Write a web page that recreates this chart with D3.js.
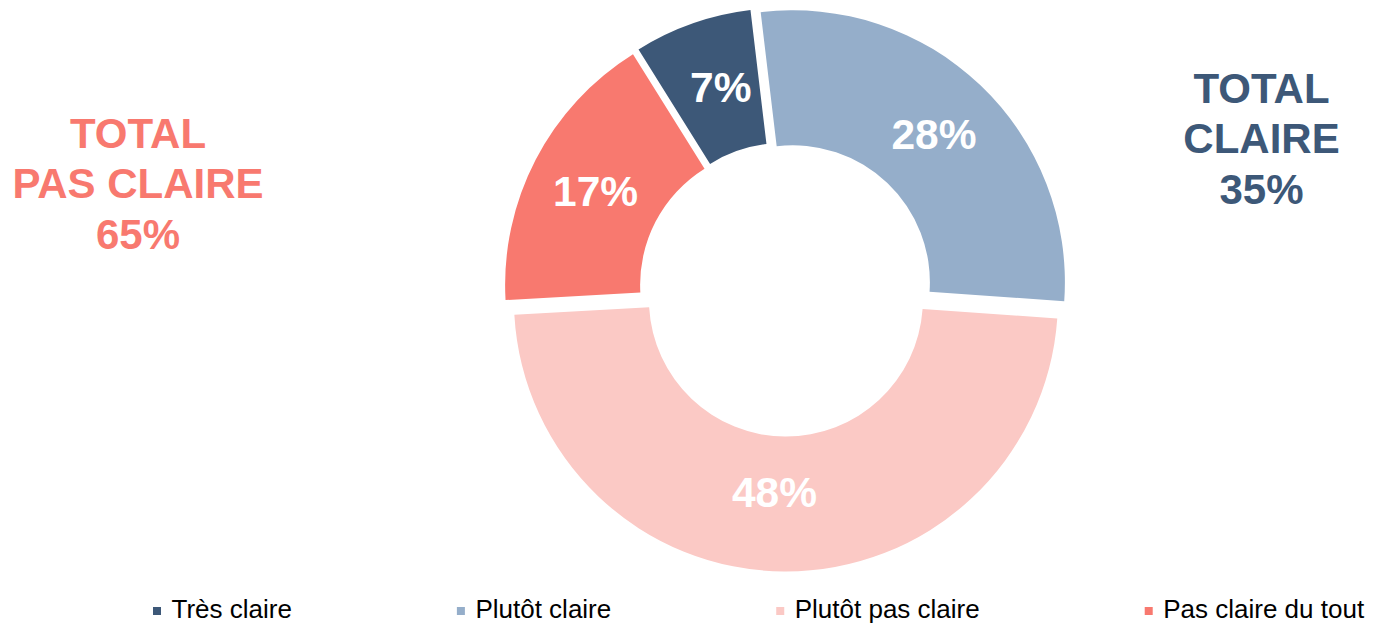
<!DOCTYPE html>
<html>
<head>
<meta charset="utf-8">
<script src="https://cdn.jsdelivr.net/npm/d3@7"></script>
<style>
  html, body { margin: 0; padding: 0; background: #ffffff; }
  svg { display: block; }
  text { font-family: "Liberation Sans", Arial, sans-serif; }
</style>
</head>
<body>
<svg id="chart" width="1375" height="623"></svg>
<script>
// ---- data ----
const categories = ["Très claire", "Plutôt claire", "Plutôt pas claire", "Pas claire du tout"];
const values = [7, 28, 48, 17];
const valueLabels = ["7%", "28%", "48%", "17%"];
const colors = ["#3d5878", "#95aeca", "#fbc9c5", "#f8796f"];
const totalLeftLines = ["TOTAL", "PAS CLAIRE", "65%"];
const totalRightLines = ["TOTAL", "CLAIRE", "35%"];

// ---- layout ----
const W = 1375, H = 623;
const cx = 786, cy = 289.5;
const outerR = 272, innerR = 137;
const explode = 10;
const startDeg = -32;

const svg = d3.select("#chart");

const pie = d3.pie()
  .sort(null)
  .value(d => d)
  .startAngle(startDeg * Math.PI / 180)
  .endAngle(startDeg * Math.PI / 180 + 2 * Math.PI);

const arc = d3.arc().innerRadius(innerR).outerRadius(outerR);
const arcs = pie(values);

// label nudges (Excel manual placement of labels)
const labelNudge = [[6, 0], [0, 0], [-10, -12], [0, 0]];

const g = svg.append("g").attr("transform", `translate(${cx},${cy})`);

const slice = g.selectAll("g.slice")
  .data(arcs)
  .join("g")
  .attr("class", "slice")
  .attr("transform", d => {
    const mid = (d.startAngle + d.endAngle) / 2;
    return `translate(${Math.sin(mid) * explode},${-Math.cos(mid) * explode})`;
  });

slice.append("path")
  .attr("d", arc)
  .attr("fill", (d, i) => colors[i]);

slice.append("text")
  .attr("transform", (d, i) => {
    const c = arc.centroid(d);
    return `translate(${c[0] + labelNudge[i][0]},${c[1] + labelNudge[i][1]})`;
  })
  .attr("text-anchor", "middle")
  .attr("dy", "0.36em")
  .attr("fill", "#ffffff")
  .attr("font-weight", "bold")
  .attr("font-size", 42.5)
  .text((d, i) => valueLabels[i]);

// ---- totals ----
function totalBlock(lines, x, y0, color) {
  svg.append("g").selectAll("text")
    .data(lines)
    .join("text")
    .attr("x", x)
    .attr("y", (d, i) => y0 + i * 50.5)
    .attr("text-anchor", "middle")
    .attr("fill", color)
    .attr("font-weight", "bold")
    .attr("font-size", 42)
    .text(d => d);
}
totalBlock(totalLeftLines, 138, 147.5, colors[3]);
totalBlock(totalRightLines, 1261.5, 102.5, colors[0]);

// ---- legend ----
const legend = svg.append("g").attr("class", "legend");
let lx = 153;
const legendY = 617.5;
categories.forEach((c, i) => {
  legend.append("rect")
    .attr("x", lx)
    .attr("y", legendY - 10.5)
    .attr("width", 8)
    .attr("height", 8)
    .attr("fill", colors[i]);
  const t = legend.append("text")
    .attr("x", lx + 18.5)
    .attr("y", legendY)
    .attr("fill", "#000000")
    .attr("font-size", 26)
    .text(c);
  const w = t.node().getComputedTextLength();
  lx = lx + 18.5 + w + 165;
});
</script>
</body>
</html>
